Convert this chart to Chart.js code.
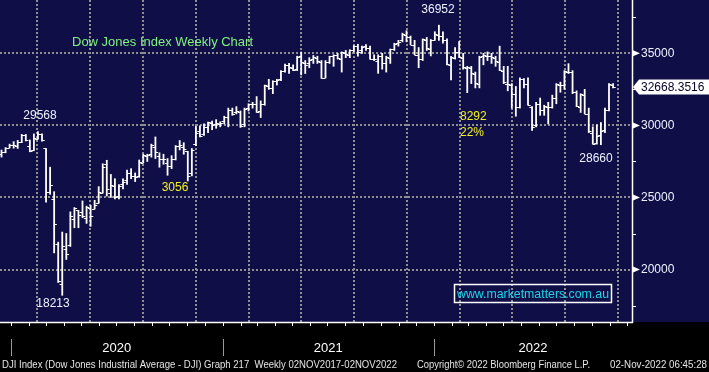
<!DOCTYPE html>
<html>
<head>
<meta charset="utf-8">
<script src="https://cdn.jsdelivr.net/npm/chart.js@4.4.0/dist/chart.umd.min.js"></script>
<style>
  html, body { margin: 0; padding: 0; background: #000; overflow: hidden; }
  canvas { display: block; }
</style>
</head>
<body>
<canvas id="chart" width="709" height="372"></canvas>
<script>
// weekly bars, first bar = week ending 13 Dec 2019
const firstWeek = "2019-12-13";

const open = [
  28000, 28150, 28460, 28650, 28550, 28830, 29300, 28600, 28300, 29090,
  29400, 28400, 25400, 24900, 21800, 19000, 21400, 21700, 23500, 24100,
  24000, 23600, 24300, 24200, 24600, 25300, 27300, 25300, 25800, 25100,
  25900, 26200, 26700, 26500, 26500, 27400, 27900, 28000, 28500, 27900,
  27700, 27400, 27200, 27700, 28600, 28500, 28200, 26700, 28700, 29600,
  29400, 29900, 30200, 30100, 30100, 30300, 30600, 31100, 30900, 30900,
  30100, 31200, 31500, 31500, 31000, 31500, 32700, 32600, 33100, 33200,
  33800, 34200, 34000, 33900, 34800, 34300, 34300, 34600, 34700, 34400,
  33300, 34400, 34800, 34900, 34600, 35000, 34900, 35200, 35500, 35200,
  35500, 35400, 34600, 34500, 34800, 34300, 34700, 35300, 35700, 35900,
  36300, 36100, 35600, 34900, 34600, 35900, 35300, 35900, 36300, 36200,
  35900, 34200, 34700, 35100, 34700, 34000, 34000, 33600, 32900, 34800,
  34800, 34800, 34700, 34400, 33800, 32900, 32800, 32200, 31300, 33200,
  32900, 31300, 30000, 31500, 31100, 31300, 31300, 31900, 32800, 32800,
  33700, 33700, 32300, 31300, 32100, 30800, 29500, 28800, 29300, 29700,
  31100, 32800
];
const high = [
  28290, 28460, 28700, 28870, 28960, 29375, 29373, 28990, 29410, 29568,
  29420, 28400, 27100, 25400, 21900, 22600, 22500, 24000, 24300, 24100,
  24760, 24400, 24450, 24800, 25750, 27340, 27580, 26600, 26300, 25900,
  26300, 26900, 27000, 26700, 27600, 28000, 28000, 28700, 29199, 28100,
  28000, 27700, 27900, 28600, 28950, 28800, 28200, 28400, 29933, 29970,
  30116, 30225, 30300, 30400, 30250, 30640, 31200, 31200, 31300, 31000,
  31200, 31500, 31600, 32000, 31700, 32800, 33200, 33100, 33200, 33800,
  34250, 34300, 34200, 34800, 35091, 34500, 34700, 34850, 34800, 34500,
  34500, 34800, 34900, 35000, 35100, 35200, 35250, 35530, 35630, 35500,
  35600, 35500, 34900, 34900, 35000, 34800, 35300, 35700, 35900, 36400,
  36565, 36200, 35900, 35400, 36000, 36100, 35960, 36500, 36952, 36500,
  36000, 34800, 35400, 35824, 35000, 34100, 34100, 33700, 34800, 35000,
  35100, 35000, 34800, 35500, 34100, 34100, 32900, 32700, 33300, 33250,
  33300, 31300, 31600, 31900, 31400, 31600, 32100, 32900, 33000, 33800,
  34281, 33800, 32400, 32200, 32500, 31200, 29900, 30040, 30200, 31200,
  32900, 32900
];
const low = [
  27800, 28100, 28440, 28420, 28400, 28800, 28920, 28170, 28240, 29050,
  28900, 24681, 25220, 21154, 19100, 18213, 20700, 21600, 22900, 22900,
  23600, 23200, 23000, 24200, 24600, 25300, 25100, 25000, 24900, 24900,
  25600, 25900, 26300, 26100, 26400, 27400, 27500, 27800, 27700, 27100,
  27300, 26540, 27000, 27600, 28300, 28000, 26143, 26500, 28600, 29200,
  29300, 29500, 29700, 29800, 29900, 30100, 29900, 30700, 30800, 29860,
  29900, 31000, 31200, 30900, 30547, 31400, 32500, 32200, 32800, 33100,
  33700, 33600, 33800, 33800, 33500, 33600, 34000, 34300, 34300, 33271,
  33300, 34300, 34100, 34600, 33700, 34700, 34700, 35100, 34800, 35000,
  35200, 34600, 34500, 33613, 33900, 33700, 34300, 35200, 35500, 35800,
  35800, 35600, 34900, 34000, 34500, 35200, 34820, 35900, 35900, 35700,
  34200, 33150, 34600, 34700, 33900, 32272, 32900, 32600, 32600, 34200,
  34500, 34300, 34100, 33800, 32900, 32400, 31200, 30636, 31200, 32600,
  31400, 29653, 29900, 30700, 30700, 30100, 31200, 31500, 32300, 32500,
  33600, 32200, 31300, 30900, 30800, 29500, 28700, 28700, 28660, 29500,
  31000, 32600
];
const close = [
  28135, 28455, 28645, 28634, 28823, 29348, 28990, 28256, 29103, 29398,
  28992, 25409, 25864, 23186, 19174, 21637, 21053, 23719, 24242, 23775,
  23724, 24331, 23685, 24465, 25383, 27111, 25605, 25871, 25016, 25827,
  26075, 26672, 26470, 26428, 27433, 27931, 27930, 28654, 28133, 27666,
  27657, 27174, 27683, 28586, 28606, 28336, 26502, 28323, 29480, 29263,
  29910, 30218, 30046, 30179, 30200, 30606, 31098, 30814, 30997, 29983,
  31148, 31458, 31494, 30932, 31496, 32779, 32628, 33072, 33153, 33801,
  34200, 34043, 33875, 34778, 34382, 34208, 34529, 34756, 34480, 33290,
  34433, 34786, 34870, 34687, 35061, 34935, 35208, 35515, 35120, 35455,
  35369, 34607, 34584, 34798, 34326, 34746, 35295, 35677, 35820, 36328,
  36100, 35602, 34899, 34580, 35971, 35365, 35950, 36338, 36231, 35912,
  34265, 34725, 35089, 34738, 34079, 34059, 33614, 32944, 34755, 34861,
  34818, 34721, 34451, 33811, 32977, 32899, 32197, 31262, 33213, 32900,
  31393, 29889, 31501, 31097, 31338, 31289, 31899, 32845, 32803, 33761,
  33706, 32283, 31318, 32151, 30822, 29590, 28725, 29297, 29634, 31083,
  32862, 32668
];
const lastPrice = "32668.3516";

const priceTicks = [20000, 25000, 30000, 35000];
const minorTicks = [17500, 22500, 27500, 32500, 37500];
const years = ["2020", "2021", "2022"];
const quarterStarts = [
  "2020-01-01", "2020-04-01", "2020-07-01", "2020-10-01",
  "2021-01-01", "2021-04-01", "2021-07-01", "2021-10-01",
  "2022-01-01", "2022-04-01", "2022-07-01", "2022-10-01"
];

const notes = [
  { text: "29568", x: 40, y: 116, color: "#eef2ff", align: "center" },
  { text: "18213", x: 53, y: 304, color: "#eef2ff", align: "center" },
  { text: "3056", x: 175, y: 188, color: "#f2f21e", align: "center" },
  { text: "36952", x: 438, y: 10, color: "#eef2ff", align: "center" },
  { text: "8292", x: 460, y: 117, color: "#f2f21e", align: "left" },
  { text: "22%", x: 460, y: 133, color: "#f2f21e", align: "left" },
  { text: "28660", x: 596, y: 159, color: "#eef2ff", align: "center" }
];

const NAVY = "#0f0e46";
const GRID = "#909090";
const FONT = "'Liberation Sans', Arial, sans-serif";

const t0 = Date.parse(firstWeek + "T00:00:00Z");
function dateIdx(s) {
  return (Date.parse(s + "T00:00:00Z") - t0) / (7 * 86400000) - 0.4;
}

function fitText(ctx, text, x, y, w) {
  const m = ctx.measureText(text).width;
  ctx.save();
  ctx.translate(x, y);
  ctx.scale(w / m, 1);
  ctx.fillText(text, 0, 0);
  ctx.restore();
}

function noPadding(scale) {
  scale.paddingTop = 0;
  scale.paddingBottom = 0;
  scale.paddingLeft = 0;
  scale.paddingRight = 0;
}

const background = {
  id: "background",
  beforeDraw(chart) {
    const ctx = chart.ctx, a = chart.chartArea;
    ctx.save();
    ctx.fillStyle = "#000";
    ctx.fillRect(0, 0, chart.width, chart.height);
    ctx.fillStyle = NAVY;
    ctx.fillRect(0, 0, chart.width, a.bottom);
    ctx.restore();
  }
};

// open / close ticks of the OHLC bars
const ohlcTicks = {
  id: "ohlcTicks",
  afterDatasetsDraw(chart) {
    const ctx = chart.ctx, xs = chart.scales.x, ys = chart.scales.y;
    ctx.save();
    ctx.strokeStyle = "#ffffff";
    ctx.lineWidth = 1;
    for (let i = 0; i < close.length; i++) {
      const px = xs.getPixelForValue(i);
      const yo = Math.round(ys.getPixelForValue(open[i])) + 0.5;
      const yc = Math.round(ys.getPixelForValue(close[i])) + 0.5;
      ctx.beginPath();
      ctx.moveTo(px - 2.7, yo); ctx.lineTo(px, yo);
      ctx.moveTo(px, yc); ctx.lineTo(px + 2.7, yc);
      ctx.stroke();
    }
    ctx.restore();
  }
};

const overlay = {
  id: "overlay",
  afterDraw(chart) {
    const ctx = chart.ctx, a = chart.chartArea;
    const xs = chart.scales.x, ys = chart.scales.y;
    ctx.save();

    // axes lines
    ctx.strokeStyle = "#ffffff";
    ctx.lineWidth = 1.5;
    ctx.beginPath();
    ctx.moveTo(a.left, a.bottom + 0.5); ctx.lineTo(a.right + 1, a.bottom + 0.5);
    ctx.moveTo(a.right + 0.5, a.top); ctx.lineTo(a.right + 0.5, a.bottom + 1);
    ctx.stroke();

    // minor price ticks
    ctx.lineWidth = 1;
    minorTicks.forEach(v => {
      const y = Math.round(ys.getPixelForValue(v)) + 0.5;
      ctx.beginPath(); ctx.moveTo(a.right, y); ctx.lineTo(a.right + 4, y); ctx.stroke();
    });
    // markers at major ticks
    ctx.fillStyle = "#ffffff";
    priceTicks.forEach(v => {
      const y = ys.getPixelForValue(v);
      ctx.beginPath();
      ctx.moveTo(a.right + 1, y - 3);
      ctx.lineTo(a.right + 8, y);
      ctx.lineTo(a.right + 1, y + 3);
      ctx.closePath(); ctx.fill();
    });

    // last price box
    const yl = ys.getPixelForValue(parseFloat(lastPrice));
    ctx.fillStyle = "#ffffff";
    ctx.beginPath();
    ctx.moveTo(a.right + 1, yl);
    ctx.lineTo(a.right + 7, yl - 7.5);
    ctx.lineTo(chart.width, yl - 7.5);
    ctx.lineTo(chart.width, yl + 7.5);
    ctx.lineTo(a.right + 7, yl + 7.5);
    ctx.closePath(); ctx.fill();
    ctx.fillStyle = "#05052a";
    ctx.font = "12px " + FONT;
    ctx.textBaseline = "middle";
    ctx.textAlign = "left";
    ctx.fillText(lastPrice, a.right + 9, yl + 0.5);

    // month ticks on the time axis
    ctx.strokeStyle = "#ffffff";
    ctx.lineWidth = 1;
    for (let yr = 2020; yr <= 2022; yr++) {
      for (let m = 1; m <= 12; m++) {
        const d = yr + "-" + String(m).padStart(2, "0") + "-01";
        const px = Math.round(xs.getPixelForValue(dateIdx(d))) + 0.5;
        if (px < a.left || px > a.right) continue;
        ctx.beginPath(); ctx.moveTo(px, a.bottom); ctx.lineTo(px, a.bottom + 4); ctx.stroke();
      }
    }

    // year separators and labels
    const starts = years.map(y => xs.getPixelForValue(dateIdx(y + "-01-01")));
    ctx.strokeStyle = "#9a9a9a";
    starts.forEach(px => {
      const x = Math.round(px) + 0.5;
      ctx.beginPath(); ctx.moveTo(x, 339); ctx.lineTo(x, 356); ctx.stroke();
    });
    ctx.fillStyle = "#ffffff";
    ctx.font = "13px " + FONT;
    ctx.textAlign = "center";
    years.forEach((y, k) => {
      const end = k + 1 < starts.length ? starts[k + 1] : a.right;
      ctx.fillText(y, (starts[k] + end) / 2, 348.5);
    });

    // chart title and annotations
    ctx.font = "13px " + FONT;
    ctx.textAlign = "left";
    ctx.fillStyle = "#80f280";
    fitText(ctx, "Dow Jones Index Weekly Chart", 72, 42.5, 181);
    ctx.font = "12px " + FONT;
    notes.forEach(n => {
      ctx.fillStyle = n.color;
      ctx.textAlign = n.align;
      ctx.fillText(n.text, n.x, n.y);
    });

    // watermark
    ctx.strokeStyle = "#ffffff";
    ctx.lineWidth = 1.5;
    ctx.strokeRect(454.5, 284.5, 157, 18);
    ctx.fillStyle = "#1cd6e8";
    ctx.textAlign = "left";
    ctx.font = "13px " + FONT;
    fitText(ctx, "www.marketmatters.com.au", 457, 294, 152);

    // footer
    ctx.fillStyle = "#e4e4e4";
    ctx.font = "11px " + FONT;
    fitText(ctx, "DJI Index (Dow Jones Industrial Average - DJI) Graph 217  Weekly 02NOV2017-02NOV2022", 2, 364.5, 395);
    fitText(ctx, "Copyright\u00a9 2022 Bloomberg Finance L.P.", 417, 364.5, 173);
    fitText(ctx, "02-Nov-2022 06:45:28", 610, 364.5, 97);

    ctx.restore();
  }
};

const bars = close.map((c, i) => ({ x: i, y: [low[i], high[i]] }));

new Chart(document.getElementById("chart"), {
  type: "bar",
  data: {
    datasets: [{
      data: bars,
      backgroundColor: "#ffffff",
      borderWidth: 0,
      barThickness: 1.15
    }]
  },
  options: {
    responsive: false,
    animation: false,
    devicePixelRatio: 1,
    layout: { padding: 0 },
    plugins: { legend: { display: false }, tooltip: { enabled: false } },
    scales: {
      x: {
        type: "linear",
        offset: false,
        min: -0.37,
        max: 155.68,
        afterBuildTicks(scale) {
          scale.ticks = quarterStarts.map(d => ({ value: dateIdx(d) }));
        },
        afterFit(scale) { scale.height = 50; noPadding(scale); },
        ticks: { display: false },
        grid: { color: GRID, lineWidth: 2, drawTicks: false },
        border: { display: false, dash: [2, 2] }
      },
      y: {
        position: "right",
        min: 16360,
        max: 38700,
        afterBuildTicks(scale) {
          scale.ticks = priceTicks.map(v => ({ value: v }));
        },
        afterFit(scale) { scale.width = 77; noPadding(scale); },
        ticks: {
          color: "#eef2ff",
          padding: 9,
          font: { family: FONT, size: 12 },
          callback: v => String(v)
        },
        grid: { color: GRID, lineWidth: 2, drawTicks: false },
        border: { display: false, dash: [2, 2] }
      }
    }
  },
  plugins: [background, ohlcTicks, overlay]
});
</script>
</body>
</html>
